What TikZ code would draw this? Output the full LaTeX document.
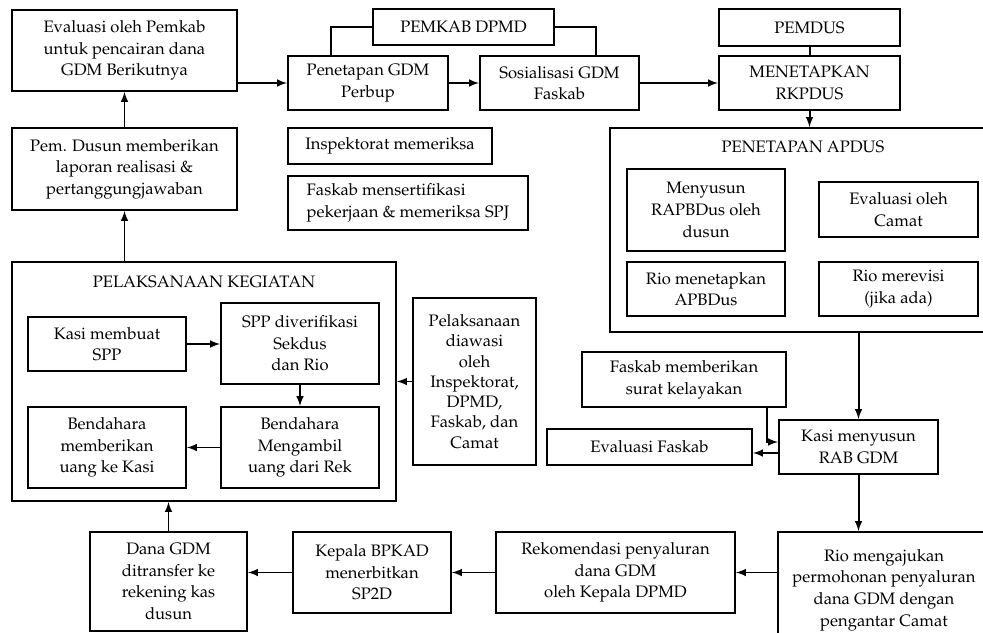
\documentclass[tikz,border=0pt]{standalone}
\usepackage[T1]{fontenc}
\usepackage{mathpazo}
\usepackage{tikz}
\usetikzlibrary{positioning, calc, arrows}

\begin{document}
\begin{tikzpicture}[x=0.025cm, y=-0.025cm, line width=1.4pt,
		every node/.style={font=\fontsize{11.8}{15.4}\selectfont},
		box/.style 2 args={draw, align=center, minimum width=#1*0.025cm, minimum height=#2*0.025cm},
		arr/.style={-latex}]
	\useasboundingbox (0,0) rectangle (983,632);
	
	% baris atas
	\node[box={225}{81}] (evalpemkab) at (124.5,50.5) {Evaluasi oleh Pemkab\\untuk pencairan dana\\GDM Berikutnya};
	\node[box={225}{82}] (laporan) at (124.5,169) {Pem. Dusun memberikan\\laporan realisasi \&\\pertanggungjawaban};
	\node[box={181}{36}] (dpmd) at (463.5,27) {PEMKAB DPMD};
	\node[box={160}{54}] (perbup) at (368,83) {Penetapan GDM\\Perbup};
	\node[box={159}{54}] (sosialisasi) at (559.5,83) {Sosialisasi GDM\\Faskab};
	\node[box={181}{37}] (pemdus) at (809.5,27.5) {PEMDUS};
	\node[box={181}{54}] (rkpdus) at (809.5,83) {MENETAPKAN\\RKPDUS};
	\node[box={204}{36}] (inspektorat) at (390,146) {Inspektorat memeriksa};
	\node[box={240}{54}, align=left] (sertifikasi) at (408,203) {Faskab mensertifikasi\\pekerjaan \& memeriksa SPJ};
	
	% penetapan apdus
	\node[box={386}{204}] (apdus) at (803,230) {};
	\node (apdustitle) at (803,147) {PENETAPAN APDUS};
	\node[box={158}{82}] (rapbdus) at (706,210) {Menyusun\\RAPBDus oleh\\dusun};
	\node[box={159}{55}] (evalcamat) at (898.5,209.5) {Evaluasi oleh\\Camat};
	\node[box={158}{54}] (apbdus) at (706,289) {Rio menetapkan\\APBDus};
	\node[box={159}{54}] (merevisi) at (898.5,289) {Rio merevisi\\(jika ada)};
	
	\node[box={204}{55}] (kelayakan) at (684,379.5) {Faskab memberikan\\surat kelayakan};
	\node[box={159}{54}] (rab) at (858.5,447) {Kasi menyusun\\RAB GDM};
	\node[box={205}{36}] (evalfaskab) at (649.5,447) {Evaluasi Faskab};
	
	% pelaksanaan kegiatan
	\node[box={384}{239}] (pelaksanaan) at (204,381.5) {};
	\node (pelaktitle) at (204,282) {PELAKSANAAN KEGIATAN};
	\node[box={158}{54}] (kasispp) at (107,344) {Kasi membuat\\SPP};
	\node[box={158}{81}] (sppverif) at (300,343.5) {SPP diverifikasi\\Sekdus\\dan Rio};
	\node[box={158}{81}] (mengambil) at (300,447.5) {Bendahara\\Mengambil\\uang dari Rek};
	\node[box={158}{81}] (memberi) at (107,447.5) {Bendahara\\memberikan\\uang ke Kasi};
	\node[box={123}{167}, font=\fontsize{11.8}{14.4}\selectfont] (diawasi) at (474.5,381.5) {Pelaksanaan\\diawasi\\oleh\\Inspektorat,\\DPMD,\\Faskab, dan\\Camat};
	
	% baris bawah
	\node[box={157}{99}] (danagdm) at (168.5,581.5) {Dana GDM\\ditransfer ke\\rekening kas\\dusun};
	\node[box={158}{81}] (sp2d) at (372,572.5) {Kepala BPKAD\\menerbitkan\\SP2D};
	\node[box={239}{81}] (rekomendasi) at (615.5,572.5) {Rekomendasi penyaluran\\dana GDM\\oleh Kepala DPMD};
	\node[box={212}{116}] (mengajukan) at (884,590) {Rio mengajukan\\permohonan penyaluran\\dana GDM dengan\\pengantar Camat};
	
	% panah
	\draw[arr] (laporan.north) -- (evalpemkab.south);
	\draw[arr] (pelaksanaan.north -| laporan.south) -- (laporan.south);
	\draw[arr] (evalpemkab.east |- perbup.west) -- (perbup.west);
	\draw (dpmd.west) -| ($(perbup.north west)+(44,0)$);
	\draw (dpmd.east) -| ($(sosialisasi.north)+(36.5,0)$);
	\draw[arr] (perbup.east) -- (sosialisasi.west);
	\draw[arr] (sosialisasi.east) -- (rkpdus.west);
	\draw (pemdus.south) -- (rkpdus.north);
	\draw[arr] (rkpdus.south) -- (rkpdus.south |- apdus.north);
	\draw[arr] (apdus.south -| rab.north) -- (rab.north);
	\draw[arr] ($(kelayakan.south east)+(-20,0)$) |- ($(rab.west)+(0,-5)$);
	\draw[arr] ($(rab.west)+(0,6)$) -- ($(evalfaskab.east)+(0,6)$);
	\draw[arr] (rab.south) -- (rab.south |- mengajukan.north);
	\draw[arr] (mengajukan.west |- rekomendasi.east) -- (rekomendasi.east);
	\draw[arr] (rekomendasi.west) -- (sp2d.east);
	\draw[arr] (sp2d.west) -- (sp2d.west -| danagdm.east);
	\draw[arr] (danagdm.north) -- (danagdm.north |- pelaksanaan.south);
	\draw[arr] (diawasi.west) -- (diawasi.west -| pelaksanaan.east);
	\draw[arr] (kasispp.east) -- (kasispp.east -| sppverif.west);
	\draw[arr] (sppverif.south) -- (mengambil.north);
	\draw[arr] (mengambil.west) -- (memberi.east);
\end{tikzpicture}
\end{document}
